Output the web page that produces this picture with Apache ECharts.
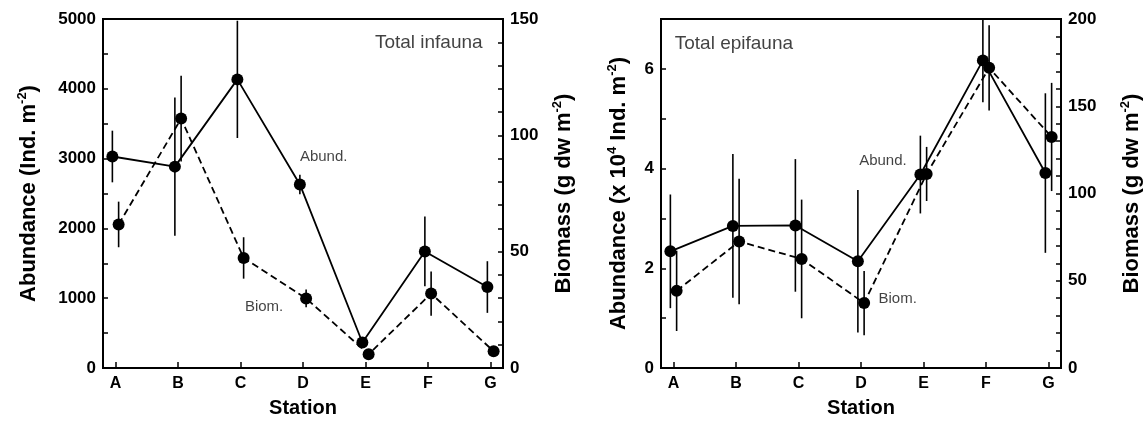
<!DOCTYPE html>
<html>
<head>
<meta charset="utf-8">
<title>Total infauna / epifauna</title>
<script src="https://cdn.jsdelivr.net/npm/echarts@6.0.0/dist/echarts.min.js"></script>
</head>
<body style="margin:0">
<div id="container" style="width:1144px;height:423px"></div>
<script>
var stations = ['A', 'B', 'C', 'D', 'E', 'F', 'G'];
var stationPos = [1, 2, 3, 4, 5, 6, 7];
var dodge = 0.05; // abundance a bit left, biomass a bit right

// infauna: abundance (Ind. m-2), biomass (g dw m-2)
var infAbund    = [3030, 2885, 4135, 2630, 365, 1670, 1160];
var infAbundErr = [370, 990, 840, 140, 70, 500, 370];
var infBiom     = [61.7, 107.2, 47.3, 29.9, 5.9, 32.0, 7.2];
var infBiomErr  = [9.8, 18.4, 8.9, 3.8, 1.5, 9.5, 1.0];

// epifauna: abundance (x 10^4 Ind. m-2), biomass (g dw m-2)
var epiAbund    = [2.34, 2.85, 2.86, 2.14, 3.88, 6.17, 3.91];
var epiAbundErr = [1.14, 1.44, 1.33, 1.43, 0.78, 0.84, 1.60];
var epiBiom     = [44.2, 72.5, 62.5, 37.2, 111.2, 172.0, 132.4];
var epiBiomErr  = [23, 36, 34, 18.4, 15.5, 24.4, 31];

var FONT = 'Liberation Sans, Arial, Helvetica, sans-serif';

var dom = document.getElementById('container');
var myChart = echarts.init(dom, null, { renderer: 'canvas' });

function xs(shift) {
  return stationPos.map(function (p) { return p + shift; });
}
function pairs(x, vals) {
  return vals.map(function (v, i) { return [x[i], v]; });
}

function lineSeries(x, vals, dashed, xi, yi) {
  return {
    type: 'line', xAxisIndex: xi, yAxisIndex: yi, z: 3,
    data: pairs(x, vals),
    symbol: 'circle', symbolSize: 12,
    itemStyle: { color: '#000' },
    lineStyle: { color: '#000', width: 1.8, type: dashed ? [7, 4] : 'solid' },
    emphasis: { disabled: true }
  };
}

function errSeries(x, vals, errs, xi, yi) {
  return {
    type: 'custom', xAxisIndex: xi, yAxisIndex: yi, z: 2, clip: true,
    data: vals.map(function (v, i) { return [x[i], v - errs[i], v + errs[i]]; }),
    renderItem: function (params, api) {
      var lo = api.coord([api.value(0), api.value(1)]);
      var hi = api.coord([api.value(0), api.value(2)]);
      return {
        type: 'line',
        shape: { x1: lo[0], y1: lo[1], x2: hi[0], y2: hi[1] },
        style: { stroke: '#000', lineWidth: 1.6 }
      };
    }
  };
}

function textSeries(x, y, text, size, xi, yi) {
  return {
    type: 'scatter', xAxisIndex: xi, yAxisIndex: yi, symbolSize: 0, silent: true,
    data: [[x, y]],
    label: {
      show: true, position: 'right', distance: 0, formatter: text,
      color: '#111', fontFamily: FONT, fontSize: size, fontWeight: 'normal'
    }
  };
}

function xAxisCfg(gi) {
  return {
    type: 'value', gridIndex: gi, min: 0.8, max: 7.2,
    name: 'Station', nameLocation: 'middle', nameGap: 30,
    nameTextStyle: { color: '#000', fontFamily: FONT, fontSize: 20, fontWeight: 'bold' },
    axisLine: { lineStyle: { color: '#000', width: 2 } },
    axisTick: { inside: true, length: 6, lineStyle: { color: '#000', width: 1.5 }, customValues: stationPos },
    axisLabel: {
      customValues: stationPos, margin: 8,
      formatter: function (v) { return stations[Math.round(v) - 1]; },
      color: '#000', fontFamily: FONT, fontSize: 16, fontWeight: 'bold'
    },
    splitLine: { show: false }
  };
}

function yAxisCfg(gi, pos, min, max, interval, minorSplit, name, gap, showMax) {
  return {
    type: 'value', gridIndex: gi, position: pos, min: min, max: max, interval: interval,
    name: name, nameLocation: 'middle', nameGap: gap, nameRotate: 90,
    nameTextStyle: {
      rich: {
        a: { fontFamily: FONT, fontSize: 22, fontWeight: 'bold', color: '#000', lineHeight: 26 },
        s: { fontFamily: FONT, fontSize: 13, fontWeight: 'bold', color: '#000', verticalAlign: 'top', lineHeight: 13 }
      }
    },
    axisLine: { show: true, lineStyle: { color: '#000', width: 2 } },
    axisTick: { inside: true, length: 5, lineStyle: { color: '#000', width: 1.5 } },
    minorTick: { show: true, splitNumber: minorSplit, length: 5, lineStyle: { color: '#000', width: 1.5 } },
    axisLabel: {
      margin: 7, showMaxLabel: showMax,
      formatter: function (v) { return String(v); },
      color: '#000', fontFamily: FONT, fontSize: 17, fontWeight: 'bold'
    },
    splitLine: { show: false }
  };
}

var option = {
  animation: false,
  backgroundColor: '#fff',
  grid: [
    { left: 103, top: 19, width: 400, height: 354, show: true, borderColor: '#000', borderWidth: 2 },
    { left: 661, top: 19, width: 407, height: 355, show: true, borderColor: '#000', borderWidth: 2 }
  ],
  xAxis: [xAxisCfg(0), xAxisCfg(1)],
  yAxis: [
    yAxisCfg(0, 'left', 0, 5000, 1000, 2, '{a|Abundance (Ind. m}{s|-2}{a|)}', 61, true),
    yAxisCfg(0, 'right', 0, 150, 50, 5, '{a|Biomass (g dw m}{s|-2}{a|)}', 48, true),
    yAxisCfg(1, 'left', 0, 7, 2, 2, '{a|Abundance (x 10}{s|4}{a| Ind. m}{s|-2}{a|)}', 29, false),
    yAxisCfg(1, 'right', 0, 200, 50, 5, '{a|Biomass (g dw m}{s|-2}{a|)}', 58, true)
  ],
  series: [
    errSeries(xs(-dodge), infAbund, infAbundErr, 0, 0),
    errSeries(xs(dodge), infBiom, infBiomErr, 0, 1),
    lineSeries(xs(-dodge), infAbund, false, 0, 0),
    lineSeries(xs(dodge), infBiom, true, 0, 1),
    textSeries(5.15, 4660, 'Total infauna', 19, 0, 0),
    textSeries(3.95, 3020, 'Abund.', 15, 0, 0),
    textSeries(3.07, 880, 'Biom.', 15, 0, 0),

    errSeries(xs(-dodge), epiAbund, epiAbundErr, 1, 2),
    errSeries(xs(dodge), epiBiom, epiBiomErr, 1, 3),
    lineSeries(xs(-dodge), epiAbund, false, 1, 2),
    lineSeries(xs(dodge), epiBiom, true, 1, 3),
    textSeries(1.02, 6.5, 'Total epifauna', 19, 1, 2),
    textSeries(3.97, 4.16, 'Abund.', 15, 1, 2),
    textSeries(4.28, 1.39, 'Biom.', 15, 1, 2)
  ]
};

myChart.setOption(option);
window.addEventListener('resize', myChart.resize);
</script>
</body>
</html>
